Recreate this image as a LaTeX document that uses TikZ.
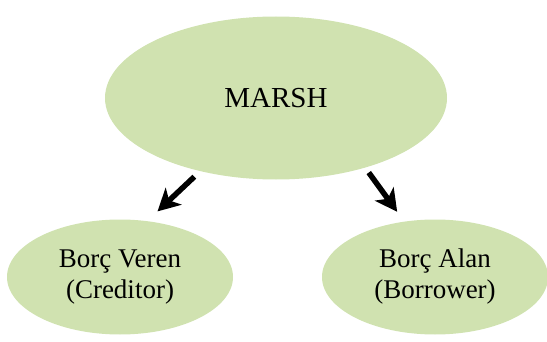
\documentclass[tikz,border=0pt]{standalone}
\usepackage{fontspec}
\setmainfont{Liberation Serif}
\usetikzlibrary{shapes.geometric,arrows.meta}
\definecolor{leafgreen}{RGB}{208,226,176}
\begin{document}
\begin{tikzpicture}[x=1pt,y=1pt,
	blob/.style={ellipse,fill=leafgreen,inner sep=0pt,align=center},
	arr/.style={-{Stealth[length=22pt,width=23pt,inset=6pt]},line width=5.5pt}]
	\useasboundingbox (0,0) rectangle (547,341);
	\node[blob,minimum width=342pt,minimum height=163pt,font=\fontsize{29}{35}\selectfont] (marsh) at (276,243) {MARSH};
	\node[blob,minimum width=226pt,minimum height=115pt,font=\fontsize{27}{31}\selectfont] (creditor) at (120,64) {Borç Veren\\(Creditor)};
	\node[blob,minimum width=226pt,minimum height=115pt,font=\fontsize{27}{31}\selectfont] (borrower) at (435,64) {Borç Alan\\(Borrower)};
	
	\draw[arr,shorten <=8pt,shorten >=14pt] (marsh.224) -- (creditor.64);
	\draw[arr,shorten <=6pt,shorten >=12pt] (marsh.322) -- (borrower.119);
\end{tikzpicture}
\end{document}
